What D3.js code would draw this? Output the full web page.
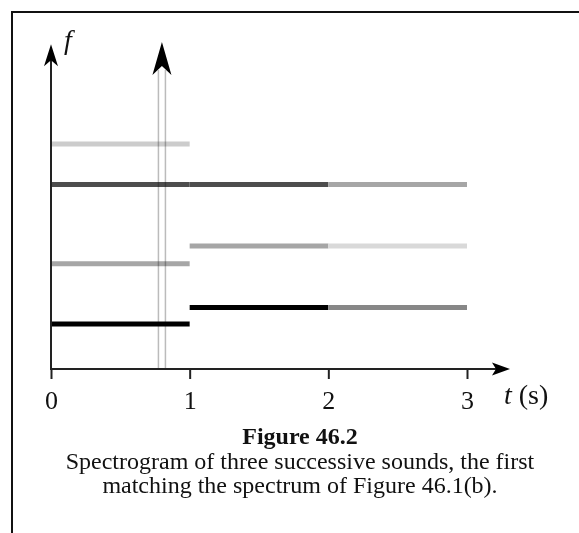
<!DOCTYPE html>
<html>
<head>
<meta charset="utf-8">
<script src="https://cdn.jsdelivr.net/npm/d3@7"></script>
<style>
  body { margin: 0; background: #fff; }
  text { font-family: "Liberation Serif", "Times New Roman", serif; fill: #111; }
</style>
</head>
<body>
<svg id="chart" width="579" height="533"></svg>
<script>
  // time axis (s)
  var tickValues = [0, 1, 2, 3];
  var soundStarts = [0, 1, 2];
  // harmonic frequencies of each sound (arbitrary units) and their strength (0 white .. 1 black)
  var soundFreqs  = [[0.73, 1.71, 3.0, 3.66], [1, 2, 3], [1, 2, 3]];
  var soundLevels = [[1.0, 0.35, 0.7, 0.2], [1.0, 0.35, 0.7], [0.47, 0.15, 0.35]];
  var markerTime = 0.8;
  var captionTitle = "Figure 46.2";
  var captionLines = ["Spectrogram of three successive sounds, the first",
                      "matching the spectrum of Figure 46.1(b)."];

  var svg = d3.select("#chart");

  var x = d3.scaleLinear().domain([0, 3]).range([51, 467]);
  var y = d3.scaleLinear().domain([0, 1]).range([369, 307.5]);
  var gray = d3.scaleLinear().domain([0, 1]).range(["#fff", "#000"]);

  var xEnd = 3.31, yTop = 5.28;

  // frame
  svg.append("path")
    .attr("d", "M12,533V12H579")
    .attr("fill", "none")
    .attr("stroke", "#111")
    .attr("stroke-width", 2);

  // spectrogram bars
  soundStarts.forEach(function (t0, i) {
    svg.append("g").selectAll("line")
      .data(soundFreqs[i].map(function (f, j) { return { f: f, level: soundLevels[i][j] }; }))
      .enter().append("line")
        .attr("x1", x(t0))
        .attr("x2", x(t0 + 1))
        .attr("y1", function (d) { return y(d.f); })
        .attr("y2", function (d) { return y(d.f); })
        .attr("stroke", function (d) { return gray(d.level); })
        .attr("stroke-width", 5);
  });

  // "now" marker: double line with arrow
  var mx = x(markerTime);
  [-3.5, 3.5].forEach(function (off) {
    svg.append("line")
      .attr("x1", mx + off).attr("x2", mx + off)
      .attr("y1", y(0)).attr("y2", 70)
      .attr("stroke", "#bbb")
      .attr("stroke-width", 1.5)
      .style("mix-blend-mode", "multiply");
  });
  svg.append("path")
    .attr("d", "M" + mx + ",42L" + (mx - 9.5) + ",75L" + mx + ",66L" + (mx + 9.5) + ",75Z")
    .attr("fill", "#000");

  // axes
  svg.append("line")
    .attr("x1", x(0)).attr("x2", x(0))
    .attr("y1", y(0)).attr("y2", y(yTop) + 10)
    .attr("stroke", "#222").attr("stroke-width", 2);
  svg.append("path")
    .attr("d", "M" + x(0) + "," + y(yTop) + "L" + (x(0) - 7) + "," + (y(yTop) + 22) + "L" + x(0) + "," + (y(yTop) + 16) + "L" + (x(0) + 7) + "," + (y(yTop) + 22) + "Z")
    .attr("fill", "#000");

  svg.append("line")
    .attr("x1", x(0) - 1).attr("x2", x(xEnd) - 10)
    .attr("y1", y(0)).attr("y2", y(0))
    .attr("stroke", "#222").attr("stroke-width", 2);
  svg.append("path")
    .attr("d", "M" + x(xEnd) + "," + y(0) + "L" + (x(xEnd) - 18) + "," + (y(0) - 6.5) + "L" + (x(xEnd) - 14) + "," + y(0) + "L" + (x(xEnd) - 18) + "," + (y(0) + 6.5) + "Z")
    .attr("fill", "#000");

  var xAxis = svg.append("g")
    .attr("transform", "translate(0," + y(0) + ")")
    .call(d3.axisBottom(x).tickValues(tickValues).tickSize(10).tickPadding(12).tickFormat(d3.format("d")));
  xAxis.select(".domain").remove();
  xAxis.selectAll(".tick line").attr("stroke", "#222").attr("stroke-width", 2);
  xAxis.selectAll(".tick text")
    .attr("fill", "#111")
    .style("font-family", "'Liberation Serif', 'Times New Roman', serif")
    .style("font-size", "26px");

  // axis labels
  var tl = svg.append("text").attr("x", 504).attr("y", 404).style("font-size", "28px");
  tl.append("tspan").style("font-style", "italic").text("t");
  tl.append("tspan").text(" (s)");

  svg.append("text")
    .attr("x", 64).attr("y", 49)
    .style("font-size", "28px").style("font-style", "italic")
    .text("f");

  // caption
  svg.append("text")
    .attr("x", 300).attr("y", 444)
    .attr("text-anchor", "middle")
    .style("font-size", "24px").style("font-weight", "bold")
    .text(captionTitle);

  svg.selectAll(".cap")
    .data(captionLines)
    .enter().append("text")
      .attr("class", "cap")
      .attr("x", 300)
      .attr("y", function (d, i) { return 469 + i * 24; })
      .attr("text-anchor", "middle")
      .style("font-size", "24px")
      .text(function (d) { return d; });
</script>
</body>
</html>
